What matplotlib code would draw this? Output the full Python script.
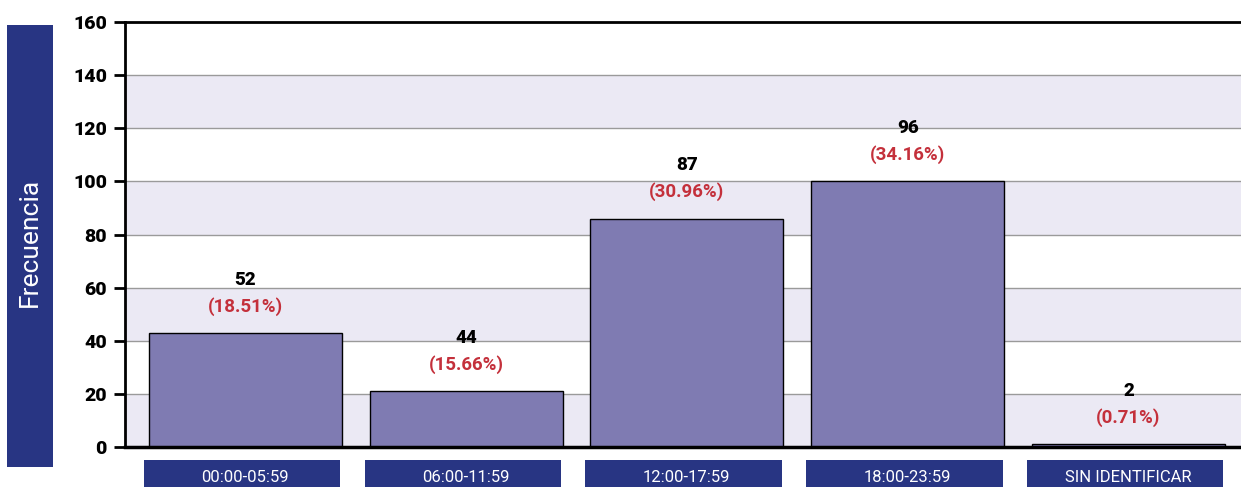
import matplotlib.pyplot as plt
import matplotlib.transforms as mtransforms
from matplotlib.patches import Rectangle

# data
categorias = ['00:00-05:59', '06:00-11:59', '12:00-17:59', '18:00-23:59', 'SIN IDENTIFICAR']
alturas = [43, 21, 86, 100, 1]          # drawn bar heights
frecuencias = [52, 44, 87, 96, 2]       # printed labels
porcentajes = ['18.51%', '15.66%', '30.96%', '34.16%', '0.71%']
y_ticks = [0, 20, 40, 60, 80, 100, 120, 140, 160]

NAVY = '#283583'
BAR = '#7f7bb2'
BAND = '#ebe9f4'
RED = '#c4303b'

plt.rcParams['font.family'] = ['Roboto', 'DejaVu Sans']

fig = plt.figure(figsize=(12.41, 4.87), dpi=100)
ax = fig.add_axes([125 / 1241, 40 / 487, 1116 / 1241, 425 / 487])

x = list(range(len(categorias)))

# alternating background bands
for i in range(0, len(y_ticks) - 1, 2):
    ax.axhspan(y_ticks[i], y_ticks[i + 1], color=BAND, zorder=0, lw=0)
for t in y_ticks[1:-1]:
    ax.axhline(t, color='#9a9a9a', lw=1, zorder=1)

ax.bar(x, alturas, width=0.875, color=BAR, edgecolor='black', linewidth=1, zorder=2)

for xi, h, f, p in zip(x, alturas, frecuencias, porcentajes):
    ax.text(xi, h + 20, str(f), ha='center', va='center', fontsize=13.5,
            fontweight='heavy', color='black', zorder=3)
    ax.text(xi, h + 10, '(' + p + ')', ha='center', va='center', fontsize=13.5,
            fontweight='bold', color=RED, zorder=3)

ax.set_xlim(-0.545, 4.51)
ax.set_ylim(0, 160)
ax.set_yticks(y_ticks)
ax.set_xticks([])
ax.tick_params(axis='y', length=8, width=2, direction='out', labelsize=14, pad=5)
for lab in ax.get_yticklabels():
    lab.set_fontweight('heavy')

ax.spines['right'].set_visible(False)
ax.spines['left'].set_linewidth(2)
ax.spines['top'].set_linewidth(2)
ax.spines['bottom'].set_linewidth(2.5)

# category boxes under the bars
trans = mtransforms.blended_transform_factory(ax.transData, fig.transFigure)
for xi, c in zip(x, categorias):
    ax.add_patch(Rectangle((xi - 0.46, 0), 0.89, 27 / 487, transform=trans,
                           facecolor=NAVY, edgecolor='none', clip_on=False))
    ax.text(xi, 10 / 487, c, transform=trans, ha='center', va='center',
            color='white', fontsize=12, fontweight='normal', clip_on=False)

# y-axis label box
fig.patches.append(Rectangle((7 / 1241, 20 / 487), 46 / 1241, 442 / 487,
                             transform=fig.transFigure, facecolor=NAVY,
                             edgecolor='none'))
fig.text(30 / 1241, 245 / 487, 'Frecuencia', rotation=90, ha='center', va='center',
         color='white', fontsize=19, fontweight='normal')

fig.savefig('out.png', dpi=100)
